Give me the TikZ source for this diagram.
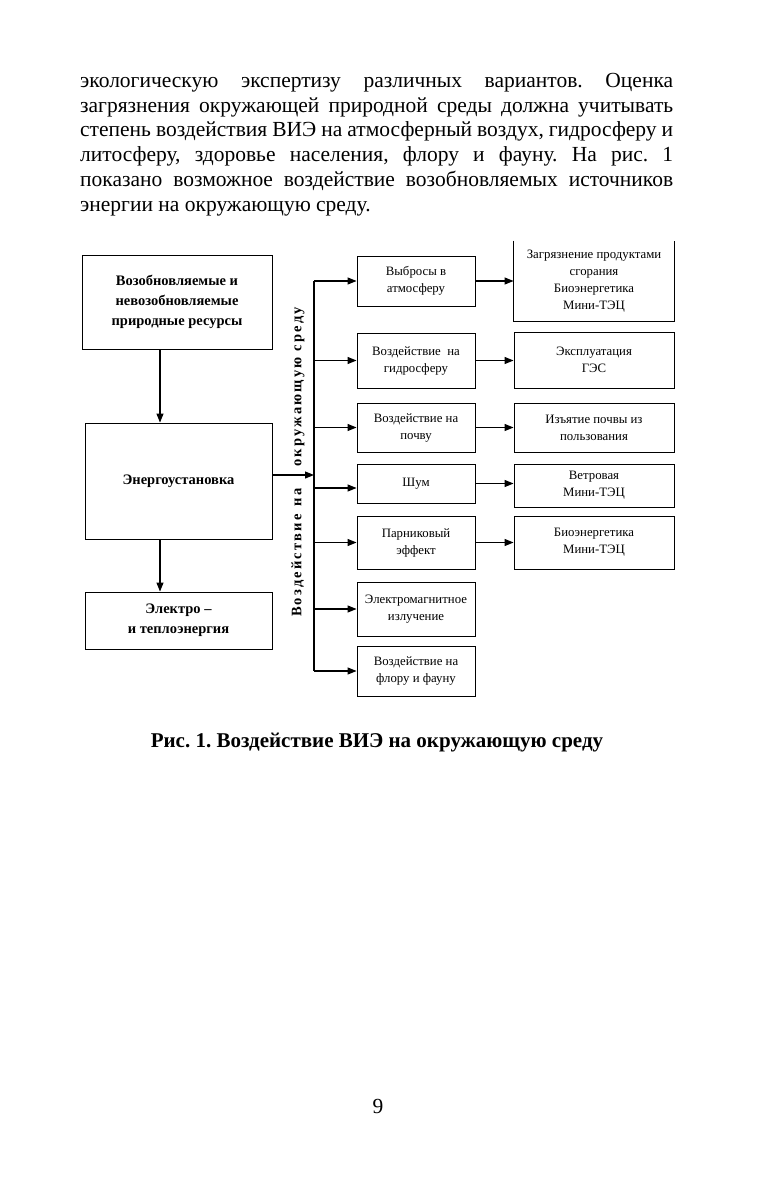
\documentclass[tikz,border=0pt]{standalone}
\usepackage{fontspec}
\setmainfont{Liberation Serif}
\usetikzlibrary{arrows.meta,calc}
\frenchspacing

\begin{document}
\begin{tikzpicture}[
  x=1pt,y=-1pt,
  txt/.style={font=\fontsize{21.5}{24.75}\selectfont,inner sep=0pt},
  box/.style={draw,line width=0.9pt,align=center,inner sep=1pt,font=\fontsize{12.8}{17}\selectfont},
  lbox/.style={box,minimum width=187pt,font=\fontsize{14.5}{20}\selectfont\bfseries},
  mbox/.style={box,minimum width=118pt},
  rbox/.style={box,minimum width=160pt},
  arr/.style={-{Triangle[length=9pt,width=7pt]},line width=1.1pt},
  bus/.style={line width=1.1pt}
]
\path[use as bounding box,fill=white] (0,0) rectangle (757,1182);

% text above the figure
\node[txt,text width=593pt,align=justify,anchor=north west] (par) at (80,73)
  {\hyphenpenalty=10000 экологическую экспертизу различных вариантов. Оценка\linebreak
   загрязнения окружающей природной среды должна учитывать\linebreak
   степень воздействия ВИЭ на атмосферный воздух, гидросферу и\linebreak
   литосферу, здоровье населения, флору и фауну. На рис.~1\linebreak
   показано возможное воздействие возобновляемых источников\linebreak
   энергии на окружающую среду.};

% left column
\node[lbox,minimum width=190pt,minimum height=94pt] (res) at (177,302) {Возобновляемые и\\невозобновляемые\\природные ресурсы};
\node[lbox,minimum height=116pt] (ust) at (178.5,481) {Энергоустановка};
\node[lbox,minimum height=57pt] (el) at (178.5,620.5) {Электро --\\и теплоэнергия};

\draw[arr] ([xshift=-17pt]res.south) -- ([xshift=-17pt]res.south |- ust.north);
\draw[arr] ([xshift=-18.5pt]ust.south) -- ([xshift=-18.5pt]ust.south |- el.north);

% impacts
\node[mbox,minimum height=50pt] (vA) at (416,281) {Выбросы в\\атмосферу};
\node[mbox,minimum height=55pt] (vB) at (416,360.5) {Воздействие\ \ на\\гидросферу};
\node[mbox,minimum height=49pt] (vC) at (416,427.5) {Воздействие на\\почву};
\node[mbox,minimum height=39pt] (vD) at (416,483.5) {Шум};
\node[mbox,minimum height=53pt] (vE) at (416,542.5) {Парниковый\\эффект};
\node[mbox,minimum height=54pt] (vF) at (416,609) {Электромагнитное\\излучение};
\node[mbox,minimum height=50pt] (vG) at (416,671) {Воздействие на\\флору и фауну};

% sources
\node[rbox,draw=none,minimum height=80pt] (zA) at (594,281) {Загрязнение продуктами\\сгорания\\Биоэнергетика\\Мини-ТЭЦ};
\draw[line width=0.9pt] (zA.north west) |- (zA.south east) -- (zA.north east);
\node[rbox,minimum height=56pt] (zB) at (594,360) {Эксплуатация\\ГЭС};
\node[rbox,minimum height=49pt] (zC) at (594,427.5) {Изъятие почвы из\\пользования};
\node[rbox,minimum height=43pt] (zD) at (594,485.5) {Ветровая\\Мини-ТЭЦ};
\node[rbox,minimum height=53pt] (zE) at (594,542.5) {Биоэнергетика\\Мини-ТЭЦ};

% bus line
\coordinate (bus) at (314,475);
\node[rotate=90,font=\fontsize{14.5}{17}\selectfont\bfseries\addfontfeature{LetterSpace=15}] (vlab) at (298,462)
  {Воздействие\hspace{8pt}на\hspace{22pt}окружающую\hspace{6pt}среду};
\draw[arr] (bus -| ust.east) -- (bus);
\draw[bus] (bus |- vA.west) -- (bus |- vG.west);
\draw[arr] (bus |- vA.west) -- (vA.west);
\draw[arr] (bus |- vB.west) -- (vB.west);
\draw[arr] (bus |- vC.west) -- (vC.west);
\draw[arr] ([yshift=-4.5pt]bus |- vD.west) -- ([yshift=-4.5pt]vD.west);
\draw[arr] (bus |- vE.west) -- (vE.west);
\draw[arr] (bus |- vF.west) -- (vF.west);
\draw[arr] (bus |- vG.west) -- (vG.west);

\draw[arr] (vA.east) -- (vA.east -| zA.west);
\draw[arr] (vB.east) -- (vB.east -| zB.west);
\draw[arr] (vC.east) -- (vC.east -| zC.west);
\draw[arr] (vD.east) -- (vD.east -| zD.west);
\draw[arr] (vE.east) -- (vE.east -| zE.west);

% caption and page number
\node[txt,font=\fontsize{21}{24}\selectfont\bfseries,anchor=base] (cap) at (377,747) {Рис. 1. Воздействие ВИЭ на окружающую среду};
\node[txt,anchor=base] (pg) at (378,1113) {9};
\end{tikzpicture}
\end{document}
